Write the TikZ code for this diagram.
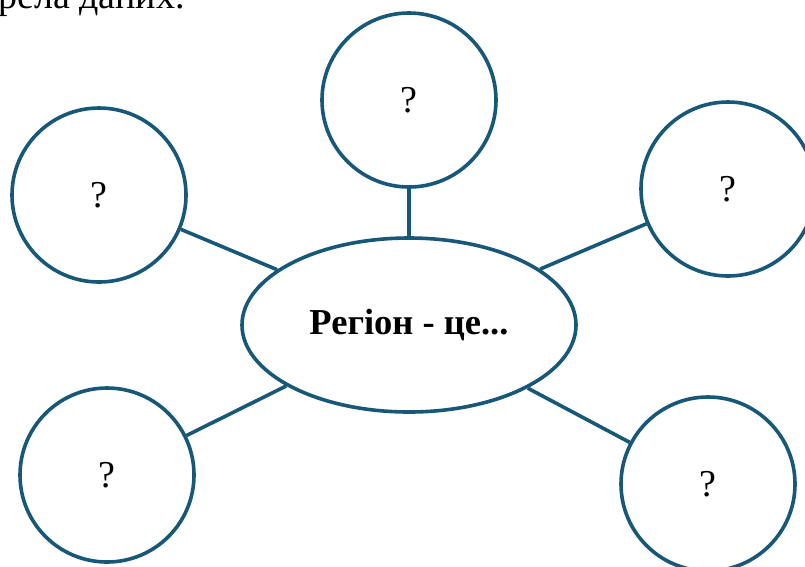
\documentclass[tikz,border=0pt]{standalone}
\usepackage{fontspec}
\setmainfont{Liberation Serif}
\usetikzlibrary{shapes.geometric}
\definecolor{edgeblue}{RGB}{23,87,119}
\tikzset{
  bubble/.style={circle, draw=edgeblue, line width=3.6pt, minimum size=174pt, inner sep=0pt, fill=white, font=\fontsize{38}{44}\selectfont},
  hub/.style={ellipse, draw=edgeblue, line width=3.6pt, minimum width=334pt, minimum height=174pt, inner sep=0pt, fill=white, font=\bfseries\fontsize{36.5}{42}\selectfont},
  link/.style={draw=edgeblue, line width=3.6pt}
}
\begin{document}
\begin{tikzpicture}[x=1pt,y=-1pt]
\useasboundingbox (0,0) rectangle (805,566);
\clip (0,0) rectangle (805,566);
\fill[white] (0,0) rectangle (805,566);
\node[anchor=base east, inner sep=0pt, font=\fontsize{38}{44}\selectfont] (src) at (185,8) {джерела даних.};
\node[hub] (e) at (409,325) {Регіон - це...};
\node[bubble] (t) at (409,100) {?};
\node[bubble] (tl) at (99,195) {?};
\node[bubble] (tr) at (728,189) {?};
\node[bubble] (bl) at (107,475) {?};
\node[bubble] (br) at (708,484) {?};
\draw[link] (t) -- (e);
\draw[link] (tl) -- (e);
\draw[link] (tr) -- (e);
\draw[link] (bl) -- (e);
\draw[link] (br) -- (e);
\end{tikzpicture}
\end{document}
